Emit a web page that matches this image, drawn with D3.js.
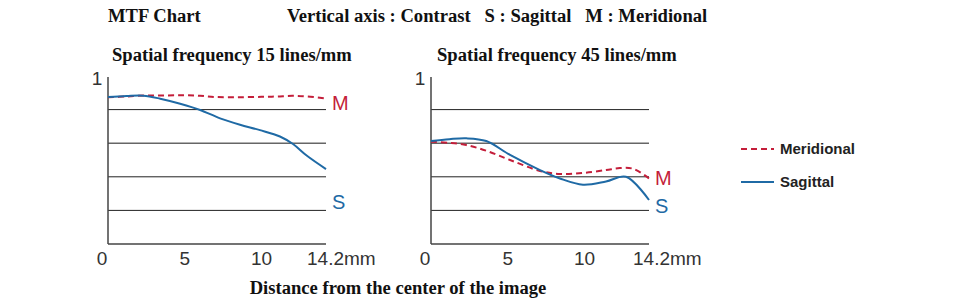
<!DOCTYPE html>
<html>
<head>
<meta charset="utf-8">
<script src="https://cdn.jsdelivr.net/npm/d3@7"></script>
<style>
  body { margin: 0; background: #fff; }
  .serif { font-family: "Liberation Serif", "Times New Roman", serif; fill: #111; font-weight: bold; font-size: 18.6px; }
  .tick-lbl { font-family: "Liberation Sans", Arial, sans-serif; font-size: 19px; fill: #333; }
</style>
</head>
<body>
<svg id="chart" width="970" height="300"></svg>
<script>
// distance from image center (mm) and contrast values
let xTicks = [0, 5, 10, 14.2];
let gridValues = [0.2, 0.4, 0.6, 0.8];

let dist15S = [0, 1.2, 2.3, 3.4, 4.7, 6.0, 7.3, 8.6, 9.9, 11.2, 12.05, 12.96, 14.2];
let sag15 = [0.875, 0.881, 0.883, 0.865, 0.835, 0.798, 0.748, 0.71, 0.678, 0.64, 0.595, 0.525, 0.446];
let dist15M = [0, 1.2, 2.5, 3.8, 5, 6, 7, 8.5, 10, 11, 12, 13, 14.2];
let mer15 = [0.873, 0.878, 0.884, 0.884, 0.886, 0.882, 0.875, 0.874, 0.876, 0.878, 0.882, 0.878, 0.866];

let dist45S = [0, 1.2, 2.3, 3.6, 5.15, 7.1, 8.4, 9.9, 11.4, 12.7, 14.2];
let sag45 = [0.613, 0.624, 0.629, 0.613, 0.53, 0.44, 0.39, 0.353, 0.372, 0.4, 0.262];
let dist45M = [0, 1.2, 2.3, 3.6, 5.15, 7.1, 8.4, 9.9, 11.4, 12.3, 13.2, 14.2];
let mer45 = [0.609, 0.602, 0.589, 0.555, 0.5, 0.435, 0.417, 0.423, 0.44, 0.452, 0.447, 0.39];

let panels = [
  { left: 108, titleX: 112, title: "Spatial frequency 15 lines/mm", s: [dist15S, sag15], m: [dist15M, mer15], mLabelY: 103, sLabelY: 202, endShift: 19 },
  { left: 431, titleX: 437, title: "Spatial frequency 45 lines/mm", s: [dist45S, sag45], m: [dist45M, mer45], mLabelY: 178, sLabelY: 206, endShift: 16 }
];

let red = "#c41e3a";
let blue = "#1f6aa5";
let plotW = 218;
let plotTop = 76, plotBottom = 244;

let svg = d3.select("#chart");

// headings
svg.append("text").attr("class", "serif").attr("x", 108).attr("y", 22).text("MTF Chart");
svg.append("text").attr("class", "serif").attr("x", 287).attr("y", 22)
  .attr("xml:space", "preserve")
  .text("Vertical axis : Contrast   S : Sagittal   M : Meridional");

let y = d3.scaleLinear().domain([0, 1]).range([plotBottom, plotTop]);

panels.forEach(function(p) {
  let x = d3.scaleLinear().domain([0, 14.2]).range([p.left, p.left + plotW]);
  let g = svg.append("g");

  g.append("text").attr("class", "serif").attr("x", p.titleX).attr("y", 61).text(p.title);

  // grid lines
  g.selectAll("line.grid").data(gridValues).enter().append("line")
    .attr("x1", p.left).attr("x2", p.left + plotW)
    .attr("y1", d => y(d)).attr("y2", d => y(d))
    .attr("stroke", d => d === 0.6 ? "#666" : "#222")
    .attr("stroke-width", d => d === 0.6 ? 1.4 : 1);

  // axes
  g.append("line").attr("x1", p.left).attr("x2", p.left).attr("y1", plotTop + 1).attr("y2", plotBottom)
    .attr("stroke", "#444").attr("stroke-width", 1.5);
  g.append("line").attr("x1", p.left).attr("x2", p.left + plotW).attr("y1", plotBottom).attr("y2", plotBottom)
    .attr("stroke", "#444").attr("stroke-width", 1.5);

  g.append("text").attr("class", "tick-lbl").attr("x", p.left - 11).attr("y", 85)
    .attr("text-anchor", "middle").text("1");

  g.selectAll("text.xt").data(xTicks).enter().append("text")
    .attr("class", "tick-lbl")
    .attr("x", d => d === 14.2 ? x(d) - p.endShift : (d === 0 ? x(d) - 6 : x(d)))
    .attr("y", 265)
    .attr("text-anchor", d => d === 14.2 ? "start" : "middle")
    .text(d => d === 14.2 ? "14.2mm" : d);

  let line = d3.line().x(d => x(d[0])).y(d => y(d[1])).curve(d3.curveCatmullRom.alpha(0.5));

  g.append("path").datum(d3.zip(p.m[0], p.m[1]))
    .attr("d", line).attr("fill", "none").attr("stroke", red)
    .attr("stroke-width", 2).attr("stroke-dasharray", "6,4");
  g.append("path").datum(d3.zip(p.s[0], p.s[1]))
    .attr("d", line).attr("fill", "none").attr("stroke", blue)
    .attr("stroke-width", 2);

  g.append("text").attr("x", p.left + plotW + 6).attr("y", p.mLabelY + 7)
    .style("font-family", "Liberation Sans, Arial, sans-serif").style("font-size", "20px")
    .attr("fill", red).text("M");
  g.append("text").attr("x", p.left + plotW + 6).attr("y", p.sLabelY + 7)
    .style("font-family", "Liberation Sans, Arial, sans-serif").style("font-size", "20px")
    .attr("fill", blue).text("S");
});

svg.append("text").attr("class", "serif").attr("x", 398).attr("y", 294)
  .attr("text-anchor", "middle")
  .text("Distance from the center of the image");

// legend
let legend = [
  { name: "Meridional", color: red, dash: "6,4", y: 149 },
  { name: "Sagittal", color: blue, dash: null, y: 182 }
];
let lg = svg.selectAll("g.legend").data(legend).enter().append("g");
lg.append("line").attr("x1", 741).attr("x2", 774)
  .attr("y1", d => d.y).attr("y2", d => d.y)
  .attr("stroke", d => d.color).attr("stroke-width", 2)
  .attr("stroke-dasharray", d => d.dash);
lg.append("text").attr("x", 780).attr("y", d => d.y + 5)
  .style("font-family", "Liberation Sans, Arial, sans-serif").style("font-size", "15px")
  .style("font-weight", "bold").attr("fill", "#222").text(d => d.name);
</script>
</body>
</html>
